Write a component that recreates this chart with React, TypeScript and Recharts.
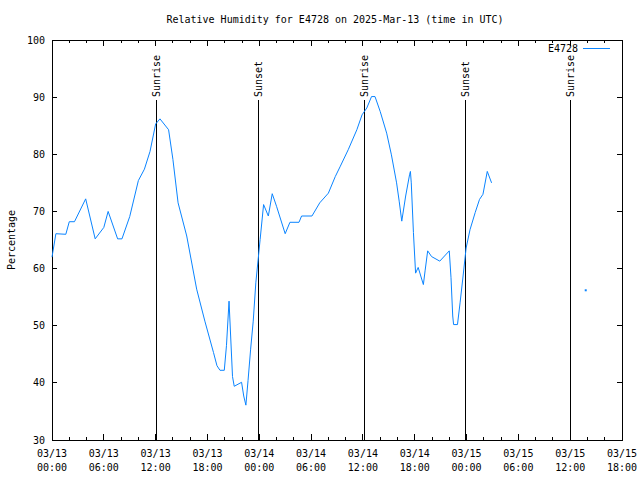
import { LineChart, Line, XAxis, YAxis, ReferenceLine, ReferenceArea } from 'recharts';

// hours since 2025-03-13 00:00 UTC, and relative humidity (%)
const hours = [
  0, 0.45, 1.6, 2.0, 2.6, 3.9, 5.0, 6.0, 6.5, 7.6, 8.1, 9.0, 10.0, 10.7, 11.35, 12.0, 12.5, 13.5,
  14.0, 14.6, 15.6, 16.75, 17.7, 18.7, 19.1, 19.45, 19.95, 20.2, 20.5, 20.9, 21.1, 21.95, 22.2,
  22.45, 22.7, 23.0, 23.3, 23.6, 24.1, 24.5, 25.05, 25.5, 26.0, 27.0, 27.55, 28.6, 28.9, 30.1,
  31.0, 32.0, 32.8, 33.35, 34.3, 35.3, 35.9, 36.45, 37.0, 37.4, 38.0, 38.75, 39.3, 39.9, 40.2,
  40.5, 40.95, 41.4, 41.5, 41.6, 41.85, 42.1, 42.4, 43.0, 43.2, 43.5, 43.95, 44.9, 46.0, 46.2,
  46.4, 46.5, 46.95, 47.25, 47.6, 47.95, 48.4, 49.0, 49.5, 49.9, 50.4, 50.9,
  56.0, 61.8,
];
const humidity = [
  62.0, 66.1, 66.0, 68.2, 68.2, 72.2, 65.2, 67.2, 70.0, 65.2, 65.2, 69.1, 75.4, 77.4, 80.5, 85.3, 86.2, 84.3,
  79.1, 71.5, 65.7, 56.4, 50.8, 45.3, 43.0, 42.2, 42.2, 46.5, 54.3, 41.1, 39.4, 40.1, 37.7,
  36.1, 40.4, 45.9, 50.8, 57.5, 65.1, 71.2, 69.2, 73.1, 70.9, 66.1, 68.1, 68.1, 69.2, 69.2,
  71.5, 73.2, 76.1, 77.8, 80.8, 84.3, 86.9, 88.1, 90.1, 90.1, 87.5, 83.7, 79.9, 75.0, 71.8,
  68.3, 72.7, 76.4, 77.0, 75.0, 66.3, 59.2, 60.2, 57.2, 59.6, 63.1, 62.1, 61.3, 63.1, 58.4,
  51.7, 50.2, 50.2, 54.0, 58.7, 63.6, 66.8, 69.8, 72.1, 73.0, 77.0, 75.0,
  null, 56.2,
];

const eventHours = [12.15, 23.9, 36.15, 47.85, 60.0];
const eventNames = ['Sunrise', 'Sunset', 'Sunrise', 'Sunset', 'Sunrise'];

const tickDates = ['03/13', '03/13', '03/13', '03/13', '03/14', '03/14', '03/14', '03/14', '03/15', '03/15', '03/15', '03/15'];
const tickClocks = ['00:00', '06:00', '12:00', '18:00', '00:00', '06:00', '12:00', '18:00', '00:00', '06:00', '12:00', '18:00'];
const xTicks = Array.from({ length: 34 }, (_, i) => i * 2);
const yTicks = [30, 40, 50, 60, 70, 80, 90, 100];

const stationName = 'E4728';
const title = 'Relative Humidity for E4728 on 2025-Mar-13 (time in UTC)';

const table = hours.map((h, i) => ({ h, rh: humidity[i] }));

const BLUE = '#0a84ff';
const FONT = '"DejaVu Sans Mono", monospace';
const PLOT_TOP = 40;
const PLOT_RIGHT = 622;

const XTick = ({ x, y, payload }: any) => {
  const h = payload.value;
  const major = h % 6 === 0;
  const len = major ? 6 : 3;
  const i = h / 6;
  return (
    <g shapeRendering="crispEdges">
      <line x1={x} y1={y} x2={x} y2={y - len} stroke="#000" />
      <line x1={x} y1={PLOT_TOP} x2={x} y2={PLOT_TOP + len} stroke="#000" />
      {major && (
        <text x={x} y={y + 17} textAnchor="middle" fontFamily={FONT} fontSize={10} fill="#000">
          {tickDates[i]}
        </text>
      )}
      {major && (
        <text x={x} y={y + 31} textAnchor="middle" fontFamily={FONT} fontSize={10} fill="#000">
          {tickClocks[i]}
        </text>
      )}
    </g>
  );
};

const YTick = ({ x, y, payload }: any) => (
  <g shapeRendering="crispEdges">
    <line x1={x} y1={y} x2={x + 5} y2={y} stroke="#000" />
    <line x1={PLOT_RIGHT} y1={y} x2={PLOT_RIGHT - 5} y2={y} stroke="#000" />
    <text x={x - 7} y={y} dy="0.35em" textAnchor="end" fontFamily={FONT} fontSize={10} fill="#000">
      {payload.value}
    </text>
  </g>
);

// a lone reading with no neighbours gets a tiny dot, like gnuplot does
const strayDot = (p: any) => {
  const v = humidity[p.index];
  const prev = humidity[p.index - 1];
  const next = humidity[p.index + 1];
  if (v == null || prev != null || next != null) return <g key={p.index} />;
  return <rect key={p.index} x={p.cx - 1} y={p.cy - 1} width={2} height={2} fill={BLUE} />;
};

const eventShape = (name: string) => (p: any) => {
  const x = p.x1;
  const top = Math.min(p.y1, p.y2);
  const bottom = Math.max(p.y1, p.y2);
  const ty = top - 3;
  return (
    <g>
      <line x1={x} y1={top} x2={x} y2={bottom} stroke="#000" shapeRendering="crispEdges" />
      <text
        x={x}
        y={ty}
        dy="0.35em"
        transform={`rotate(-90 ${x} ${ty})`}
        fontFamily={FONT}
        fontSize={10}
        fill="#000"
      >
        {name}
      </text>
    </g>
  );
};

export default function App() {
  return (
    <div style={{ position: 'absolute', left: 0, top: 0, width: 640, height: 480, background: '#fff' }}>
      <LineChart width={640} height={480} data={table} margin={{ top: 40, right: 18, bottom: 0, left: 0 }}>
        <XAxis
          dataKey="h"
          type="number"
          domain={[0, 66]}
          ticks={xTicks}
          interval={0}
          height={40}
          axisLine={false}
          tickLine={false}
          tickSize={0}
          tickMargin={0}
          tick={<XTick />}
        />
        <YAxis
          type="number"
          domain={[30, 100]}
          ticks={yTicks}
          interval={0}
          width={52}
          axisLine={false}
          tickLine={false}
          tickSize={0}
          tickMargin={0}
          tick={<YTick />}
        />
        {eventHours.map((t, i) => (
          <ReferenceLine
            key={i}
            segment={[{ x: t, y: 30 }, { x: t, y: 89.5 }]}
            stroke="#000"
            shape={eventShape(eventNames[i])}
          />
        ))}
        <Line
          dataKey="rh"
          type="linear"
          stroke={BLUE}
          strokeWidth={1}
          dot={strayDot}
          activeDot={false}
          connectNulls={false}
          isAnimationActive={false}
        />
        <ReferenceArea
          x1={0}
          x2={66}
          y1={30}
          y2={100}
          fill="none"
          stroke="#000"
          strokeWidth={1}
          fillOpacity={0}
          shapeRendering="crispEdges"
          ifOverflow="visible"
        />
      </LineChart>
      <svg width={640} height={480} style={{ position: 'absolute', left: 0, top: 0, pointerEvents: 'none' }}>
        <text x={335} y={23} textAnchor="middle" fontFamily={FONT} fontSize={10} fill="#000">
          {title}
        </text>
        <text
          x={11}
          y={240}
          dy="0.35em"
          textAnchor="middle"
          transform="rotate(-90 11 240)"
          fontFamily={FONT}
          fontSize={10}
          fill="#000"
        >
          Percentage
        </text>
        <text x={578} y={52} textAnchor="end" fontFamily={FONT} fontSize={10} fill="#000">
          {stationName}
        </text>
        <line x1={583} y1={48} x2={610} y2={48} stroke={BLUE} shapeRendering="crispEdges" />
      </svg>
    </div>
  );
}
